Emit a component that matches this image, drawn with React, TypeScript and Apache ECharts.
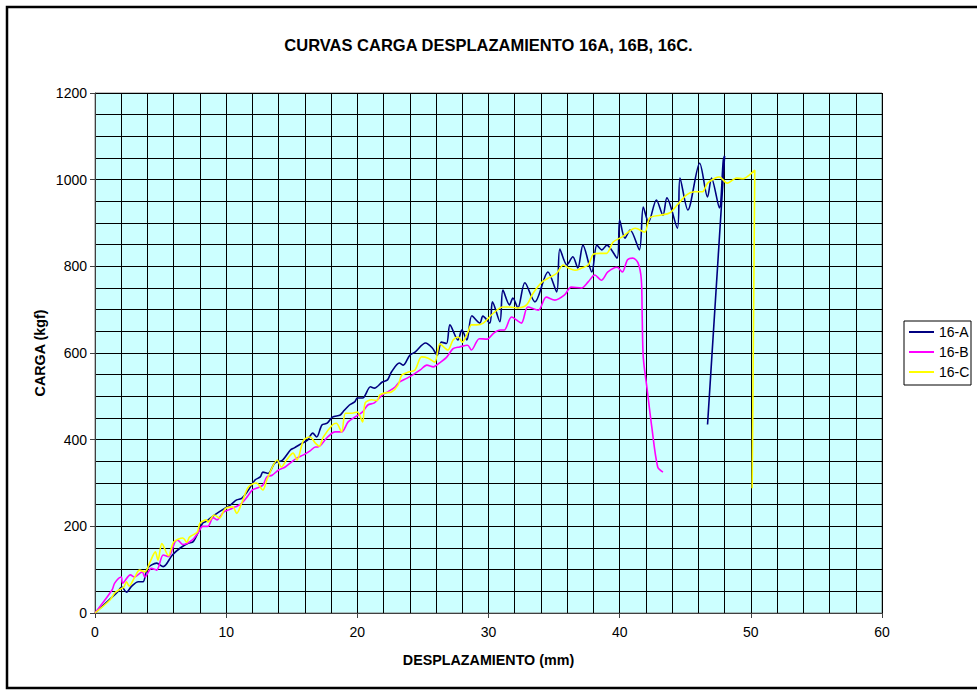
import React, { useEffect, useRef } from "react";
import * as echarts from "echarts";

const TITLE = "CURVAS CARGA DESPLAZAMIENTO 16A, 16B, 16C.";
const X_TITLE = "DESPLAZAMIENTO (mm)";
const Y_TITLE = "CARGA (kgf)";
const SERIES_NAMES = ["16-A", "16-B", "16-C"];
const SERIES_COLORS = ["#000080", "#FF00FF", "#FFFF00"];

const aX = [0, 1.0, 1.7, 2.05, 2.4, 2.8, 3.3, 3.66, 4.0, 4.7, 5.2, 5.9, 6.5, 7.1, 7.5, 8.2, 8.5, 9.1, 9.7, 10.3, 10.8, 11.2, 11.7, 12.2, 12.6, 12.8, 13.2, 13.7, 14.3, 14.9, 15.2, 15.8, 16.2, 16.6, 16.9, 17.3, 17.7, 18.1, 18.7, 18.9, 19.4, 19.8, 20.0, 20.4, 21.0, 21.3, 21.9, 22.3, 22.6, 23.2, 23.5, 24.0, 24.4, 25.2, 25.7, 26.1, 26.4, 26.8, 27.06, 27.67, 27.97, 28.35, 28.73, 29.34, 29.57, 30.1, 30.3, 30.87, 31.1, 31.6, 31.86, 32.24, 32.77, 33.54, 34.53, 35.2, 35.44, 35.98, 36.43, 36.81, 37.2, 37.88, 38.26, 38.65, 39.02, 39.8, 40.0, 40.4, 40.8, 41.5, 41.8, 42.2, 42.8, 43.3, 43.6, 44.4, 44.6, 45.2, 46.1, 46.7, 47.0, 47.6, 47.9, 48.0, 46.7];
const aY = [0, 28, 48, 60, 48, 62, 72, 72, 103, 115, 107, 134, 150, 161, 165, 207, 212, 226, 238, 249, 261, 265, 284, 307, 314, 325, 322, 346, 353, 376, 381, 392, 399, 415, 406, 434, 438, 452, 457, 464, 480, 487, 496, 496, 522, 519, 533, 538, 556, 577, 572, 595, 602, 623, 612, 595, 625, 622, 665, 630, 653, 630, 686, 669, 685, 669, 718, 672, 745, 711, 727, 704, 762, 718, 787, 741, 840, 803, 822, 796, 849, 787, 849, 838, 849, 819, 907, 865, 884, 838, 937, 902, 953, 918, 958, 888, 1004, 930, 1038, 960, 1004, 935, 1045, 1055, 435];

const bX = [0, 1.3, 1.5, 2.0, 2.1, 2.7, 3.0, 3.6, 3.8, 4.3, 4.7, 5.2, 5.6, 6.1, 6.3, 6.7, 7.4, 7.9, 8.2, 8.6, 9.0, 9.3, 9.8, 10.2, 10.7, 11.1, 11.6, 12.0, 12.3, 12.8, 13.1, 13.5, 14.0, 14.5, 15.0, 15.4, 15.9, 16.4, 16.8, 17.0, 17.7, 18.3, 18.8, 19.3, 19.8, 20.4, 20.8, 21.3, 21.9, 22.3, 22.9, 23.2, 23.8, 24.2, 24.8, 25.3, 25.8, 26.3, 26.8, 27.3, 27.8, 28.4, 28.7, 29.3, 29.9, 30.4, 30.9, 31.2, 31.76, 32.5, 33.0, 33.8, 34.4, 35.06, 35.8, 36.3, 37.1, 37.6, 38.1, 38.6, 39.1, 39.8, 40.2, 40.6, 41.0, 41.4, 41.65, 41.72, 41.8, 42.1, 42.45, 42.9, 43.3];
const bY = [0, 53, 69, 83, 69, 88, 83, 95, 83, 103, 99, 134, 130, 164, 168, 158, 168, 187, 200, 200, 220, 215, 233, 238, 245, 251, 268, 284, 288, 295, 314, 318, 330, 337, 349, 358, 365, 374, 383, 383, 405, 418, 418, 441, 452, 464, 480, 485, 503, 510, 522, 533, 542, 549, 561, 572, 568, 578, 590, 610, 614, 618, 607, 633, 632, 646, 653, 653, 683, 669, 706, 699, 729, 722, 734, 752, 750, 764, 780, 768, 787, 798, 787, 815, 819, 808, 770, 680, 590, 515, 429, 337, 325];

const cX = [0, 1.14, 1.5, 1.8, 2.2, 2.4, 2.6, 3.0, 3.4, 3.8, 4.2, 4.6, 4.8, 5.1, 5.6, 6.0, 6.7, 7.0, 7.2, 7.8, 8.0, 8.5, 8.6, 9.1, 9.5, 9.9, 10.5, 10.8, 11.2, 11.7, 12.3, 12.8, 13.1, 13.9, 14.2, 14.6, 15.1, 15.4, 15.9, 16.4, 16.8, 17.1, 17.4, 18.1, 18.4, 18.8, 19.1, 19.6, 20.0, 20.4, 20.6, 21.1, 21.5, 21.7, 22.1, 22.6, 23.1, 23.4, 23.9, 24.4, 24.9, 25.4, 25.9, 26.3, 26.9, 27.3, 27.7, 28.0, 28.4, 28.7, 29.1, 29.6, 30.3, 31.1, 31.6, 32.2, 32.9, 33.4, 34.1, 34.7, 35.2, 35.7, 36.1, 36.6, 37.1, 37.6, 38.0, 38.5, 39.0, 39.5, 40.2, 41.2, 41.9, 42.3, 43.1, 43.8, 44.4, 45.1, 45.7, 46.3, 46.7, 47.3, 47.6, 48.2, 48.6, 48.9, 49.4, 49.9, 50.3, 50.1];
const cY = [0, 30, 46, 53, 60, 72, 62, 81, 99, 95, 118, 141, 122, 160, 132, 164, 173, 163, 175, 187, 207, 215, 210, 226, 219, 240, 245, 230, 255, 291, 300, 284, 307, 353, 337, 353, 369, 353, 399, 406, 392, 385, 406, 434, 438, 418, 461, 461, 464, 441, 485, 492, 490, 503, 508, 510, 526, 549, 556, 561, 591, 588, 579, 621, 607, 630, 637, 625, 646, 665, 665, 669, 690, 706, 706, 704, 711, 738, 764, 775, 784, 803, 796, 791, 796, 803, 828, 830, 830, 856, 868, 888, 879, 912, 918, 923, 942, 965, 972, 972, 992, 1004, 1006, 992, 999, 1004, 1002, 1011, 1022, 288];

const X_MIN = 0, X_MAX = 60, X_STEP = 10, X_MINOR = 5;
const Y_MIN = 0, Y_MAX = 1200, Y_STEP = 200, Y_MINOR = 4;

const pairs = (xs: number[], ys: number[]) => xs.map((x, i) => [x, ys[i]]);

const FONT = "'Liberation Sans', Arial, sans-serif";

export default function App() {
  const ref = useRef<HTMLDivElement>(null);
  useEffect(() => {
    if (!ref.current) return;
    const chart = echarts.init(ref.current, undefined, { renderer: "svg" });
    const data = [pairs(aX, aY), pairs(bX, bY), pairs(cX, cY)];
    const axisCommon = {
      axisLine: { show: true, lineStyle: { color: "#404040", width: 1 } },
      axisTick: { show: true, length: 5, lineStyle: { color: "#404040" } },
      axisLabel: { color: "#000", fontSize: 14, fontFamily: FONT, formatter: (v: number) => String(v) },
      splitLine: { show: true, lineStyle: { color: "#000", width: 1 } },
      minorSplitLine: { show: true, lineStyle: { color: "#000", width: 1 } },
    };
    const legendItems: any[] = [];
    SERIES_NAMES.forEach((name, i) => {
      const y = 332 + i * 20;
      legendItems.push({ type: "line", shape: { x1: 909, y1: y, x2: 934, y2: y }, style: { stroke: SERIES_COLORS[i], lineWidth: 2 }, z: 100 });
      legendItems.push({ type: "text", x: 939, y, style: { text: name, fontSize: 14, fontFamily: FONT, fill: "#000", textAlign: "left", textVerticalAlign: "middle" }, z: 100 });
    });
    chart.setOption({
      animation: false,
      backgroundColor: "#fff",
      textStyle: { fontFamily: FONT },
      grid: {
        left: 95, top: 93, width: 787, height: 520,
        show: true, backgroundColor: "#CCFFFF", borderColor: "#808080", borderWidth: 1,
      },
      xAxis: {
        type: "value", min: X_MIN, max: X_MAX, interval: X_STEP,
        ...axisCommon,
        axisLabel: { ...axisCommon.axisLabel, margin: 12 },
        minorTick: { show: false, splitNumber: X_MINOR },
      },
      yAxis: {
        type: "value", min: Y_MIN, max: Y_MAX, interval: Y_STEP,
        ...axisCommon,
        axisLabel: { ...axisCommon.axisLabel, margin: 8 },
        minorTick: { show: false, splitNumber: Y_MINOR },
      },
      graphic: [
        { type: "rect", shape: { x: 7, y: 7, width: 1000, height: 681 }, style: { fill: "none", stroke: "#000", lineWidth: 2.5 }, z: 100 },
        { type: "rect", shape: { x: 904, y: 321, width: 67, height: 64 }, style: { fill: "#fff", stroke: "#000", lineWidth: 1 }, z: 99 },
        ...legendItems,
        { type: "text", x: 488.5, y: 45, style: { text: TITLE, fontSize: 16.5, fontWeight: "bold", fontFamily: FONT, fill: "#000", textAlign: "center", textVerticalAlign: "middle" } },
        { type: "text", x: 488.5, y: 660, style: { text: X_TITLE, fontSize: 14.3, fontWeight: "bold", fontFamily: FONT, fill: "#000", textAlign: "center", textVerticalAlign: "middle" } },
        { type: "text", x: 40, y: 353, rotation: Math.PI / 2, style: { text: Y_TITLE, fontSize: 14.3, fontWeight: "bold", fontFamily: FONT, fill: "#000", textAlign: "center", textVerticalAlign: "middle" } },
      ],
      series: SERIES_NAMES.map((name, i) => ({
        name, type: "line", data: data[i], symbol: "none", smooth: 0.3,
        lineStyle: { color: SERIES_COLORS[i], width: 1.6 },
        itemStyle: { color: SERIES_COLORS[i] },
      })),
    });
    return () => chart.dispose();
  }, []);
  return (
    <div ref={ref} style={{ position: "absolute", left: 0, top: 0, width: 977, height: 690 }} />
  );
}
